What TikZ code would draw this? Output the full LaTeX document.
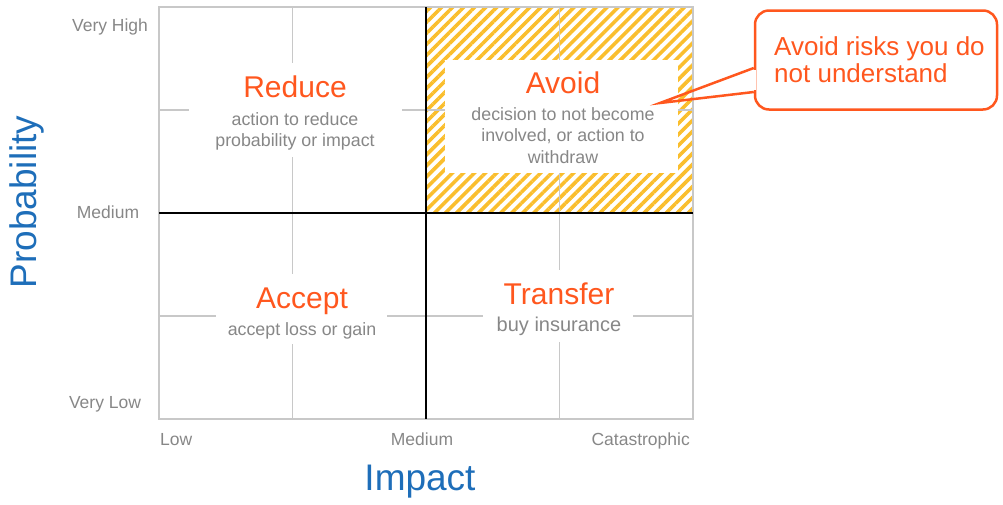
\documentclass[tikz,border=0pt]{standalone}
\usepackage{fontspec}
\setmainfont{Liberation Sans}
\usetikzlibrary{patterns.meta}

\definecolor{accent}{RGB}{255,87,30}
\definecolor{axisblue}{RGB}{30,110,185}
\definecolor{gridgray}{RGB}{200,200,200}
\definecolor{labelgray}{RGB}{135,135,135}
\definecolor{hatch}{RGB}{250,190,45}

\begin{document}
\begin{tikzpicture}[x=1pt,y=-1pt,
    grid line/.style={draw=gridgray,line width=1.6pt},
    main axis/.style={draw=black,line width=2.8pt},
    quad box/.style={fill=white,inner sep=0pt},
    quad title/.style={text=accent,font=\fontsize{30}{36}\selectfont,anchor=base,inner sep=0pt},
    quad text/.style={text=labelgray,font=\fontsize{17.8}{21.5}\selectfont,align=center,anchor=north,inner sep=0pt},
    tick label/.style={text=labelgray,font=\fontsize{17.5}{21}\selectfont,anchor=base,inner sep=0pt},
    axis title/.style={text=axisblue,font=\fontsize{37}{44}\selectfont,anchor=base,inner sep=0pt},
    callout box/.style={draw=accent,line width=2.5pt,rounded corners=14pt,fill=white}]

  \useasboundingbox (0,0) rectangle (1003,504);

  % hatched quadrant
  \fill[pattern={Lines[angle=45,distance=7.8pt,line width=3.6pt]},pattern color=hatch]
    (426,7) rectangle (693,213);

  % grid
  \foreach \x in {292.5,559.5}
    \draw[grid line] (\x,7) -- (\x,419);
  \foreach \y in {110,316}
    \draw[grid line] (159,\y) -- (693,\y);
  \draw[grid line] (159,7) rectangle (693,419);

  % white boxes behind the texts
  \node[quad box,minimum width=213pt,minimum height=94pt] (reduce box) at (295.5,110) {};
  \node[quad box,minimum width=233pt,minimum height=113pt] (avoid box) at (561.5,116.5) {};
  \node[quad box,minimum width=171pt,minimum height=70pt] (accept box) at (301.5,309) {};
  \node[quad box,minimum width=150pt,minimum height=72pt] (transfer box) at (558,306) {};

  \draw[main axis] (426,7) -- (426,419);
  \draw[main axis] (159,213) -- (693,213);

  % quadrants
  \node[quad title] (reduce) at (295,97) {Reduce};
  \node[quad text] (reduce text) at (295,112) {action to reduce\\probability or impact};
  \node[quad title] (avoid) at (563,93) {Avoid};
  \node[quad text] (avoid text) at (563,107) {decision to not become\\involved, or action to\\withdraw};
  \node[quad title] (accept) at (302,308) {Accept};
  \node[quad text] (accept text) at (302,322) {accept loss or gain};
  \node[quad title] (transfer) at (559,304) {Transfer};
  \node[quad text,font=\fontsize{20}{24}\selectfont] (transfer text) at (559,317) {buy insurance};

  % axis labels
  \node[tick label] (very high) at (110,31) {Very High};
  \node[tick label] (prob medium) at (108,218) {Medium};
  \node[tick label] (very low) at (105,408) {Very Low};
  \node[tick label,anchor=base west] (low) at (160,445) {Low};
  \node[tick label] (impact medium) at (422,445) {Medium};
  \node[tick label,anchor=base east] (catastrophic) at (690,445) {Catastrophic};
  \node[axis title] (impact) at (420,490) {Impact};
  \node[axis title,rotate=90] (probability) at (36,202) {Probability};

  % callout
  \node[callout box,minimum width=242pt,minimum height=99pt] (note) at (876,60) {};
  \node[text=accent,font=\fontsize{26}{27.5}\selectfont,align=left,anchor=north west,inner sep=0pt]
    (note text) at (774,36) {Avoid risks you do\\not understand};
  \coordinate (tip) at (660,103);
  \draw[accent,line width=2.5pt] ([yshift=-8pt]note.west) -- (tip) -- ([yshift=-32pt]note.west);
  \draw[white,line width=4pt] ([yshift=-10pt]note.west) -- ([yshift=-30pt]note.west);
\end{tikzpicture}
\end{document}
